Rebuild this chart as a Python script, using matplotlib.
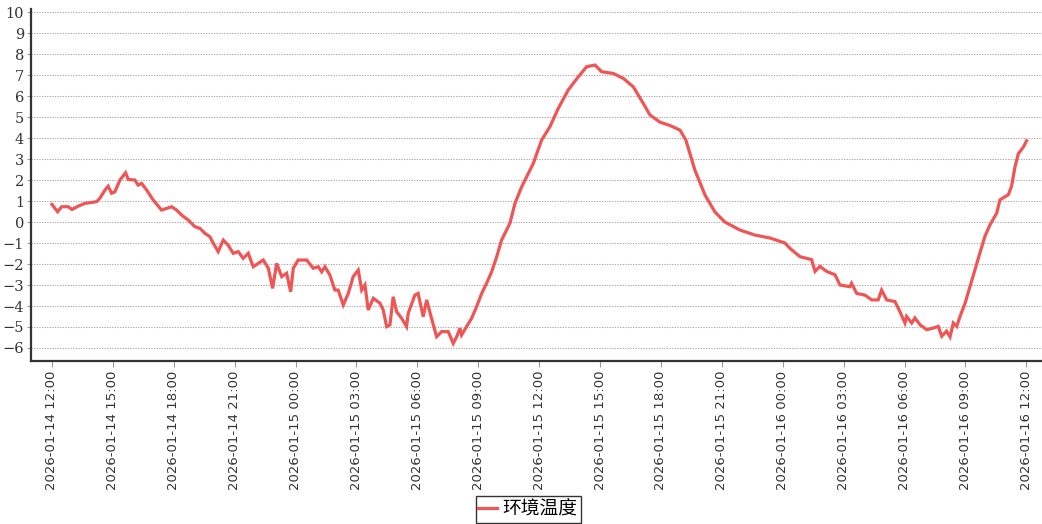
import matplotlib
matplotlib.use('Agg')
import matplotlib.pyplot as plt
import matplotlib.dates as mdates
import numpy as np
from datetime import datetime, timedelta

# 数据：相对 2026-01-14 12:00 的小时数 与 环境温度
start = datetime(2026, 1, 14, 12, 0)
hours = [0.00, 0.28, 0.48, 0.80, 0.99, 1.30, 1.63, 2.20, 2.36, 2.61, 2.77, 2.94, 3.10,
         3.35, 3.63, 3.76, 4.09, 4.25, 4.42, 4.67, 4.99, 5.40, 5.65, 5.90, 6.14, 6.39,
         6.71, 7.04, 7.29, 7.54, 7.78, 7.95, 8.19, 8.44, 8.68, 8.93, 9.18, 9.42, 9.67,
         9.92, 10.16, 10.41, 10.66, 10.87, 11.07, 11.32, 11.56, 11.76, 11.89, 12.13,
         12.55, 12.87, 13.12, 13.29, 13.45, 13.69, 13.94, 14.10, 14.35, 14.60, 14.84,
         15.09, 15.26, 15.42, 15.58, 15.83, 16.16, 16.32, 16.49, 16.65, 16.81, 16.98,
         17.23, 17.47, 17.55, 17.88, 18.04, 18.29, 18.46, 18.70, 18.95, 19.20, 19.52,
         19.77, 19.94, 20.10, 20.18, 20.43, 20.67, 20.92, 21.17, 21.41, 21.66, 21.91,
         22.15, 22.56, 22.81, 23.14, 23.71, 24.12, 24.53, 24.94, 25.43, 25.93, 26.34,
         26.75, 27.08, 27.65, 28.15, 28.64, 29.13, 29.46, 29.95, 30.44, 30.94, 31.23,
         31.67, 32.17, 32.66, 33.15, 33.89, 34.63, 35.37, 36.11, 36.35, 36.60, 36.85,
         37.42, 37.59, 37.83, 38.16, 38.57, 38.82, 39.31, 39.39, 39.64, 40.05, 40.38,
         40.70, 40.87, 41.12, 41.53, 41.77, 42.02, 42.10, 42.35, 42.51, 42.76, 43.09,
         43.41, 43.66, 43.83, 44.07, 44.24, 44.40, 44.57, 44.73, 44.98, 45.22, 45.47,
         45.71, 45.96, 46.21, 46.54, 46.70, 47.11, 47.27, 47.44, 47.60, 47.85, 48.01]
temps = [0.84, 0.49, 0.73, 0.73, 0.60, 0.76, 0.89, 0.97, 1.13, 1.52, 1.71, 1.37, 1.44,
         2.00, 2.35, 2.03, 2.00, 1.76, 1.84, 1.52, 1.05, 0.57, 0.65, 0.73, 0.57, 0.33,
         0.10, -0.22, -0.30, -0.54, -0.70, -1.01, -1.41, -0.86, -1.10, -1.49, -1.41, -1.73, -1.49,
         -2.13, -1.97, -1.81, -2.20, -3.16, -1.97, -2.60, -2.44, -3.32, -2.20, -1.81,
         -1.81, -2.20, -2.13, -2.37, -2.13, -2.52, -3.24, -3.24, -3.95, -3.40, -2.60,
         -2.29, -3.24, -3.00, -4.19, -3.63, -3.87, -4.19, -4.98, -4.90, -3.56, -4.27,
         -4.59, -4.98, -4.35, -3.48, -3.40, -4.51, -3.71, -4.59, -5.46, -5.22, -5.22,
         -5.78, -5.46, -5.06, -5.38, -4.98, -4.59, -4.03, -3.40, -2.92, -2.37, -1.65,
         -0.86, -0.06, 0.89, 1.68, 2.79, 3.90, 4.54, 5.41, 6.29, 6.92, 7.40,
         7.48, 7.16, 7.08, 6.84, 6.44, 5.65, 5.10, 4.76, 4.60, 4.38, 3.90,
         2.48, 1.29, 0.48, 0.00, -0.38, -0.62, -0.76, -1.00, -1.25, -1.45, -1.65,
         -1.79, -2.35, -2.11, -2.35, -2.51, -3.00, -3.08, -2.92, -3.40, -3.48, -3.71,
         -3.71, -3.24, -3.71, -3.79, -4.27, -4.81, -4.50, -4.81, -4.57, -4.89, -5.13,
         -5.05, -4.97, -5.44, -5.20, -5.47, -4.81, -4.97, -4.50, -3.87, -3.08, -2.27,
         -1.48, -0.68, -0.13, 0.43, 1.06, 1.30, 1.70, 2.63, 3.25, 3.57, 3.87]
yticks = list(range(-6, 11))
series_name = '环境温度'

times = [start + timedelta(hours=h) for h in hours]

fig = plt.figure(figsize=(10.42, 5.24), dpi=100)
ax = fig.add_axes([31 / 1042, 1 - 361 / 524, 1 - 31 / 1042, (361 - 9) / 524])

ax.plot(times, temps, color='#f05555', linewidth=2.3, label=series_name,
        solid_joinstyle='miter')

ax.set_xlim(start - timedelta(hours=1.03), start + timedelta(hours=48.77))
ax.set_ylim(-6.62, 10.15)

ax.set_yticks(yticks)
ax.yaxis.grid(True, linestyle=(0, (1.2, 1.3)), color='#a8a8a8', linewidth=0.75)
ax.set_axisbelow(True)

ax.xaxis.set_major_locator(mdates.HourLocator(byhour=[0, 3, 6, 9, 12, 15, 18, 21]))
ax.xaxis.set_major_formatter(mdates.DateFormatter('%Y-%m-%d %H:%M'))
for lab in ax.get_xticklabels():
    lab.set_rotation(90)
    lab.set_fontfamily('DejaVu Sans')
    lab.set_fontsize(9.5)
    lab.set_color('#333333')
for lab in ax.get_yticklabels():
    lab.set_fontfamily('DejaVu Serif')
    lab.set_fontsize(10.5)
    lab.set_color('#333333')

ax.tick_params(axis='x', length=4, color='#999999', pad=3)
ax.tick_params(axis='y', length=3, color='#999999', pad=2)

for s in ['top', 'right']:
    ax.spines[s].set_visible(False)
for s in ['left', 'bottom']:
    ax.spines[s].set_color('#333333')
    ax.spines[s].set_linewidth(1.6)

leg = fig.legend(loc='upper center', bbox_to_anchor=(528 / 1042, 1 - 496 / 524),
                 prop={'family': ['Noto Sans CJK SC', 'DejaVu Sans'], 'size': 13.5},
                 fancybox=False, framealpha=1, edgecolor='#333333',
                 handlelength=1.0, handletextpad=0.3, borderpad=0.15,
                 borderaxespad=0)
leg.get_frame().set_linewidth(1.0)

fig.savefig('out.png', dpi=100)
